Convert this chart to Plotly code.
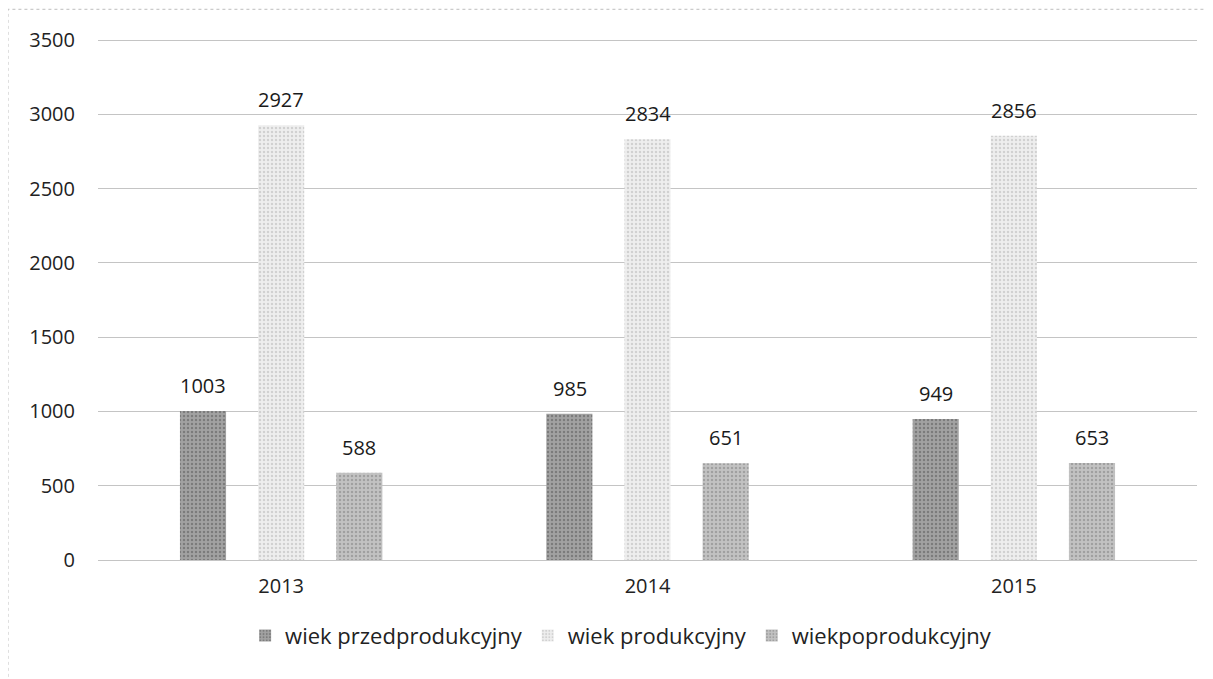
import plotly.graph_objects as go

years = ["2013", "2014", "2015"]
przed = [1003, 985, 949]
prod = [2927, 2834, 2856]
poprod = [588, 651, 653]

series_names = ["wiek przedprodukcyjny", "wiek produkcyjny", "wiekpoprodukcyjny"]
series_values = [przed, prod, poprod]
colors = ["#a2a2a2", "#eeeeee", "#c2c2c2"]
dot_colors = ["#555555", "#b4b4b4", "#7e7e7e"]
label_shift = [-78, 0, 78]  # px offset of each bar inside its group

font_family = "Open Sans, Liberation Sans, sans-serif"

fig = go.Figure()
for name, vals, c, dc in zip(series_names, series_values, colors, dot_colors):
    fig.add_trace(
        go.Bar(
            x=years,
            y=vals,
            name=name,
            marker=dict(
                color=c,
                line=dict(width=0),
                pattern=dict(shape=".", fgcolor=dc, size=4, solidity=0.3),
            ),
        )
    )

# data labels, a bit above the bars like the Excel original
# (category index used for x: numeric-looking year strings would be read as indices)
for vals, dx in zip(series_values, label_shift):
    for i, v in enumerate(vals):
        fig.add_annotation(
            x=i, y=v, text=str(v), showarrow=False,
            xshift=dx, yshift=10, yanchor="bottom",
            font=dict(size=20, color="#1a1a1a", family=font_family),
        )

fig.update_layout(
    width=1213,
    height=679,
    paper_bgcolor="white",
    plot_bgcolor="white",
    barmode="group",
    bargap=0.36,
    bargroupgap=0.41,
    margin=dict(l=90, r=24, t=30, b=127),
    font=dict(family=font_family, size=20, color="#222222"),
    showlegend=True,
    legend=dict(
        orientation="h",
        x=0.476,
        xanchor="center",
        y=-0.105,
        yanchor="top",
        font=dict(size=22, color="#222222"),
        itemwidth=30,
        traceorder="normal",
    ),
    xaxis=dict(
        type="category",
        range=[-0.5, 2.5],
        showgrid=False,
        showline=False,
        ticks="",
        tickfont=dict(size=20, family=font_family),
        ticklabelstandoff=12,
    ),
    yaxis=dict(
        range=[0, 3515],
        dtick=500,
        showgrid=True,
        gridcolor="#c4c4c4",
        gridwidth=1,
        zeroline=True,
        zerolinecolor="#c4c4c4",
        zerolinewidth=1,
        showline=False,
        ticks="",
        tickfont=dict(size=20, family=font_family),
        ticklabelstandoff=22,
    ),
)

# faint dotted frame of the scanned chart
fig.add_shape(
    type="rect", xref="paper", yref="paper",
    x0=-0.0819, x1=1.05, y0=-0.4, y1=1.055,
    line=dict(color="#bdbdbd", width=1, dash="dot"),
)

fig.write_html("out.html")
